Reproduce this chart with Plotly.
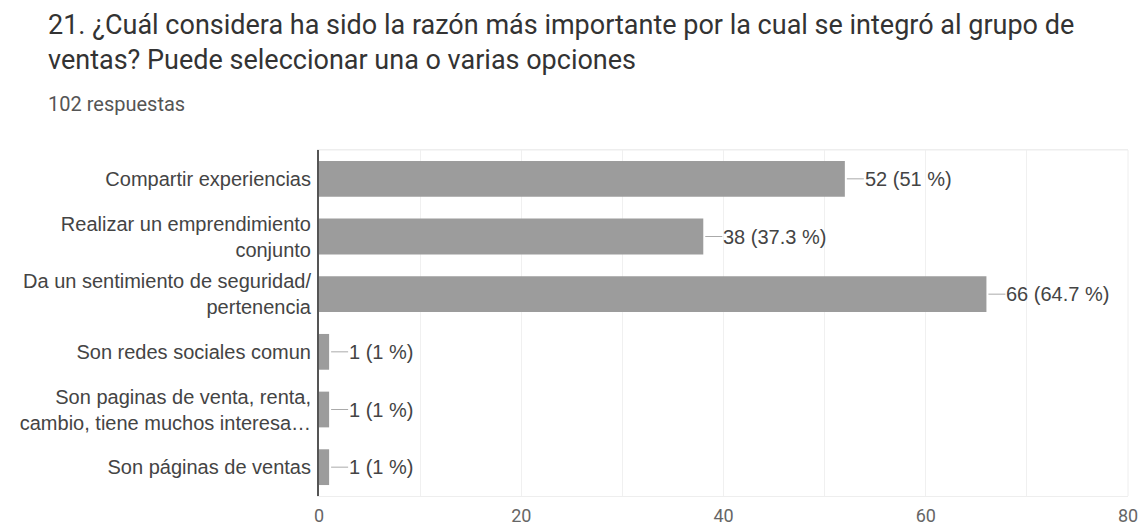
import plotly.graph_objects as go

categories = [
    "Compartir experiencias",
    "Realizar un emprendimiento<br>conjunto",
    "Da un sentimiento de seguridad/<br>pertenencia",
    "Son redes sociales comun",
    "Son paginas de venta, renta,<br>cambio, tiene muchos interesa…",
    "Son páginas de ventas",
]
counts = [52, 38, 66, 1, 1, 1]
percents = ["51", "37.3", "64.7", "1", "1", "1"]
x_ticks = [0, 20, 40, 60, 80]

W, H = 1143, 527
L, R, T, B = 319, 15, 150, 31
pw = W - L - R
ph = H - T - B

fig = go.Figure(go.Bar(
    y=categories, x=counts, orientation="h",
    marker=dict(color="#9c9c9c", line=dict(width=0)),
    width=0.62, hoverinfo="skip",
))

for c, v, p in zip(categories, counts, percents):
    fig.add_annotation(
        x=v, y=c, xref="x", yref="y",
        text=f"{v} ({p} %)", showarrow=True, arrowhead=0,
        arrowwidth=1, arrowcolor="#aaaaaa",
        ax=19, ay=0, xanchor="left", standoff=2, borderpad=0,
        font=dict(family="Liberation Sans, Arial", size=20, color="#444444"),
    )

def px_x(px):
    return (px - L) / pw

def px_y(py):
    return 1 - (py - T) / ph

fig.add_annotation(
    xref="paper", yref="paper", x=px_x(46), y=px_y(7),
    xanchor="left", yanchor="top", align="left", showarrow=False,
    text="21. ¿Cuál considera ha sido la razón más importante por la cual se integró al grupo de<br>ventas? Puede seleccionar una o varias opciones",
    font=dict(family="Roboto", size=27, color="#333333"),
)
fig.add_annotation(
    xref="paper", yref="paper", x=px_x(46), y=px_y(90),
    xanchor="left", yanchor="top", align="left", showarrow=False,
    text="102 respuestas",
    font=dict(family="Roboto", size=20, color="#555555"),
)

fig.update_layout(
    width=W, height=H,
    margin=dict(l=L, r=R, t=T, b=B, autoexpand=False),
    paper_bgcolor="white", plot_bgcolor="white",
    showlegend=False,
    bargap=0.38,
)
fig.update_xaxes(
    range=[0, 80], tickvals=x_ticks, ticktext=[str(t) for t in x_ticks],
    showgrid=True, gridcolor="#f0f0f0", gridwidth=1,
    tickfont=dict(family="Roboto", size=18, color="#666666"),
    showline=True, linecolor="#eeeeee", mirror=True,
    zeroline=False, ticks="", ticklabelstandoff=3,
    minor=dict(dtick=10, showgrid=True, gridcolor="#f0f0f0"),
)
fig.update_yaxes(
    categoryorder="array", categoryarray=categories[::-1],
    tickfont=dict(family="Liberation Sans, Arial", size=20, color="#444444"),
    showline=True, linecolor="#555555", linewidth=2, mirror=False,
    showgrid=False, ticks="", ticklabelstandoff=2,
)
fig.add_shape(type="line", xref="paper", yref="paper", x0=1, x1=1, y0=0, y1=1,
              line=dict(color="#eeeeee", width=1))
fig.add_shape(type="line", xref="paper", yref="paper", x0=0, x1=1, y0=1, y1=1,
              line=dict(color="#eeeeee", width=1))

fig.write_html("out.html")
